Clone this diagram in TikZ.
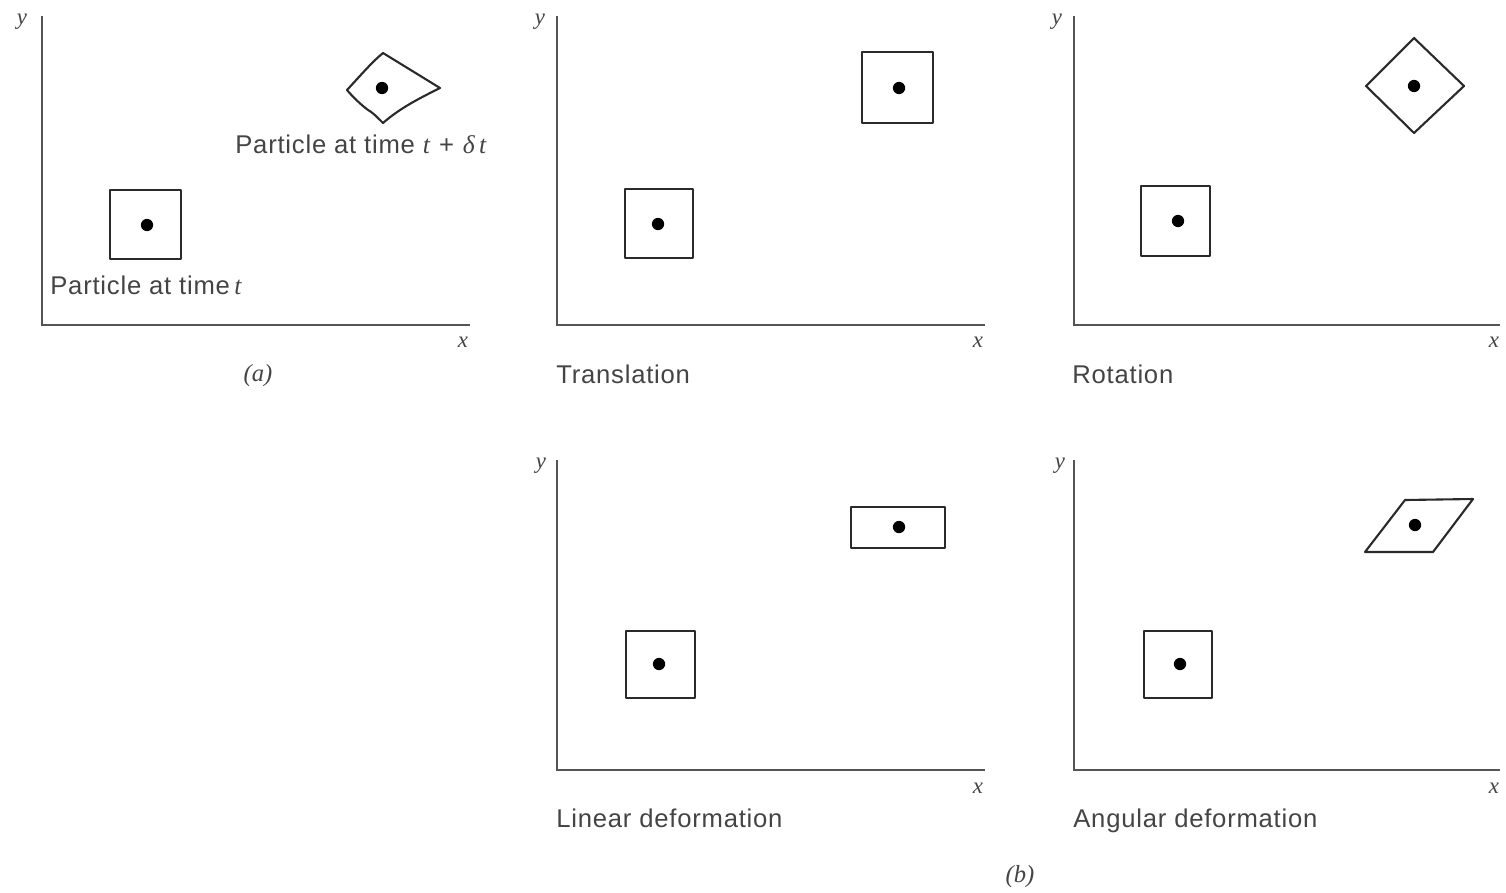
\documentclass[tikz,border=0pt]{standalone}
\usepackage{fontspec}
\setmainfont[LetterSpace=3]{Liberation Sans}
\newfontfamily\serifit{Liberation Serif}
\begin{document}
\begin{tikzpicture}[x=0.02cm,y=-0.02cm]
\definecolor{txt}{HTML}{444444}
\definecolor{ln}{HTML}{2A2A2A}
\definecolor{ax}{HTML}{555555}
\tikzset{
  axis/.style={draw=ax,line width=1.1pt},
  part/.style={draw=ln,line width=1.2pt,line join=round},
  ctr/.style={fill=black,circle,inner sep=0pt,minimum size=7pt},
  lab/.style={text=txt,font=\fontsize{14.6}{16}\selectfont,anchor=base west,inner sep=0pt},
  axl/.style={text=txt,font=\fontsize{13}{14}\selectfont\serifit\itshape,inner sep=0pt},
  capl/.style={text=txt,font=\fontsize{14}{15}\selectfont\serifit\itshape,inner sep=0pt}
}
\useasboundingbox (0,0) rectangle (1506,892);
% ---------- panel (a)
\draw[axis] (42,16) -- (42,325) -- (470,325);
\node[axl] (ay) at (22,22) {y};
\node[axl] (ax) at (463,342) {x};
\node[capl] (acap) at (258,376) {(a)};
\draw[part] (110,190) rectangle (181,259);
\node[ctr] (ad1) at (147,225) {};
\node[lab] (al1) at (50,294) {Particle at time\,{\serifit\itshape t}};
\draw[part] (347,90) .. controls (360,76) and (372,62) .. (383,53)
  -- (440,88)
  .. controls (420,98) and (400,108) .. (383,123)
  .. controls (376,116) and (372,112) .. (368,110)
  .. controls (360,104) and (352,96) .. cycle;
\node[ctr] (ad2) at (382,88) {};
\node[lab] (al2) at (235,153) {Particle at time {\serifit\itshape t}\hspace{0.35em}+\hspace{0.35em}{\serifit\itshape δ\,t}};
% ---------- Translation
\draw[axis] (557,16) -- (557,325) -- (985,325);
\node[axl] (ty) at (540,22) {y};
\node[axl] (tx) at (978,342) {x};
\draw[part] (625,189) rectangle (693,258);
\node[ctr] (td1) at (658,224) {};
\draw[part] (862,52) rectangle (933,123);
\node[ctr] (td2) at (899,88) {};
\node[lab] (tl) at (556,383) {Translation};
% ---------- Rotation
\draw[axis] (1074,16) -- (1074,325) -- (1500,325);
\node[axl] (ry) at (1057,22) {y};
\node[axl] (rx) at (1494,342) {x};
\draw[part] (1141,186) rectangle (1210,256);
\node[ctr] (rd1) at (1178,221) {};
\draw[part] (1414,38) -- (1464,86) -- (1414,133) -- (1366,86) -- cycle;
\node[ctr] (rd2) at (1414,86) {};
\node[lab] (rl) at (1072,383) {Rotation};
% ---------- Linear deformation
\draw[axis] (557,460) -- (557,770) -- (985,770);
\node[axl] (ly) at (541,466) {y};
\node[axl] (lx) at (978,788) {x};
\draw[part] (626,631) rectangle (695,698);
\node[ctr] (ld1) at (659,664) {};
\draw[part] (851,507) rectangle (945,548);
\node[ctr] (ld2) at (899,527) {};
\node[lab] (ll) at (556,827) {Linear deformation};
% ---------- Angular deformation
\draw[axis] (1074,460) -- (1074,770) -- (1500,770);
\node[axl] (gy) at (1060,466) {y};
\node[axl] (gx) at (1494,788) {x};
\draw[part] (1144,631) rectangle (1212,698);
\node[ctr] (gd1) at (1180,664) {};
\draw[part] (1365,552) -- (1433,552) -- (1473,499) -- (1405,500) -- cycle;
\node[ctr] (gd2) at (1415,525) {};
\node[lab] (gl) at (1073,827) {Angular deformation};
\node[capl] (bcap) at (1020,877) {(b)};
\end{tikzpicture}
\end{document}
